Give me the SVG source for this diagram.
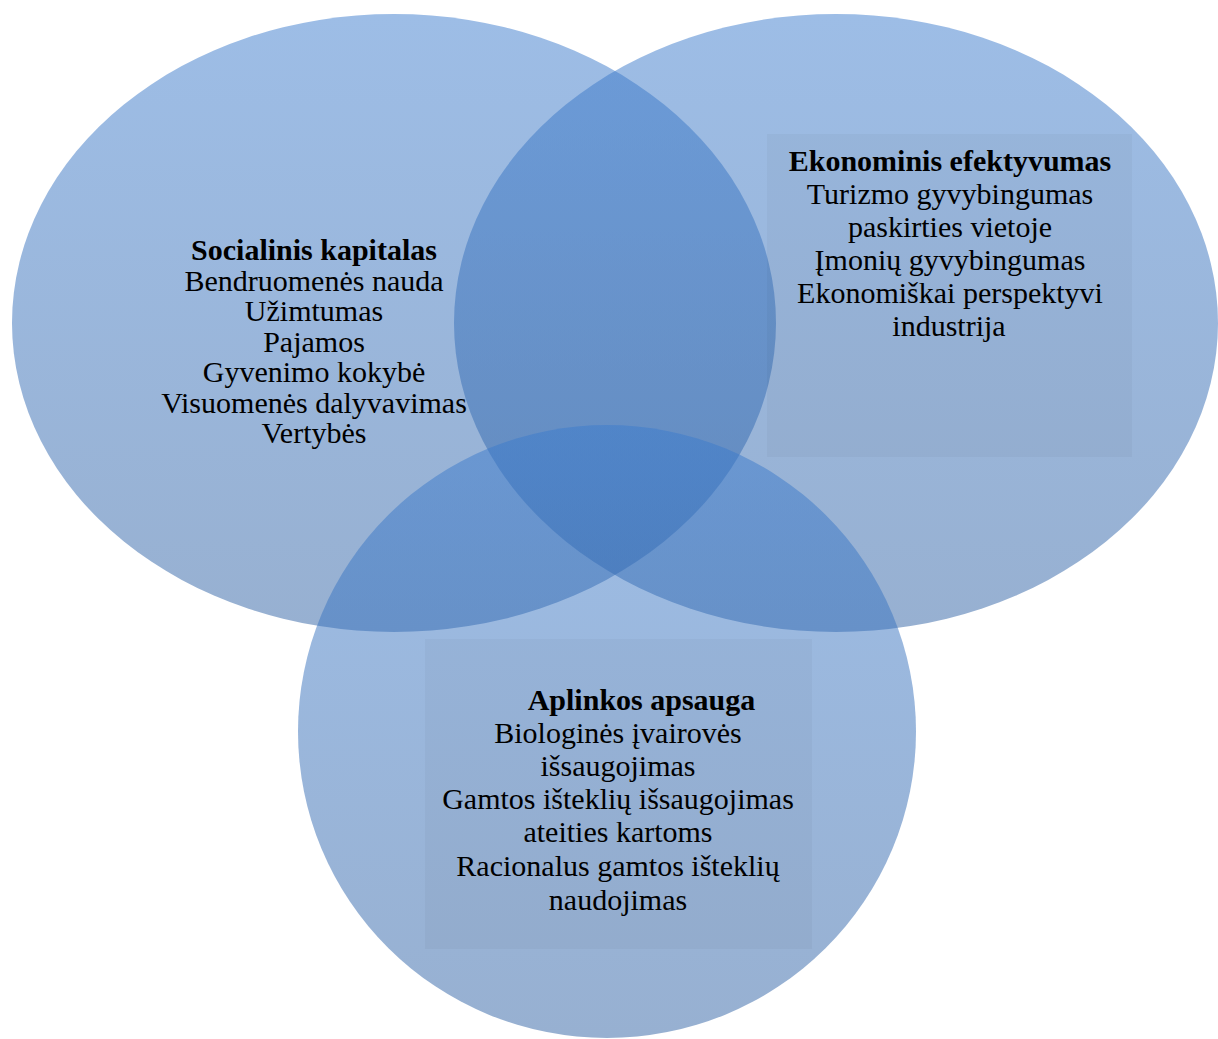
<svg xmlns="http://www.w3.org/2000/svg" width="1218" height="1039" viewBox="0 0 1218 1039">
<style>
.t{font-family:"Liberation Serif","Times New Roman",serif;font-size:30px;fill:#000;text-anchor:middle}
.b{font-weight:bold}
.c{fill:url(#g);}
.box{fill:#000;fill-opacity:0.03}
</style>
<defs>
<linearGradient id="g" x1="0" y1="0" x2="0" y2="1">
<stop offset="0" stop-color="#3b7bcd" stop-opacity="0.5"/>
<stop offset="1" stop-color="#2f61a3" stop-opacity="0.5"/>
</linearGradient>
</defs>
<rect width="1218" height="1039" fill="#fff"/>
<g id="social">
<ellipse class="c" cx="394" cy="323" rx="382" ry="309"/>
</g>
<g id="economic">
<ellipse class="c" cx="836" cy="323" rx="382" ry="309"/>
</g>
<g id="environment">
<ellipse class="c" cx="607" cy="731.5" rx="309" ry="306.5"/>
</g>
<g id="connectors"></g>
<g id="social-text">
<text class="t b" x="314" y="260">Socialinis kapitalas</text>
<text class="t" x="314" y="291">Bendruomenės nauda</text>
<text class="t" x="314" y="321">Užimtumas</text>
<text class="t" x="314" y="352">Pajamos</text>
<text class="t" x="314" y="382">Gyvenimo kokybė</text>
<text class="t" x="314" y="413">Visuomenės dalyvavimas</text>
<text class="t" x="314" y="443">Vertybės</text>
</g>
<g id="economic-text">
<rect class="box" x="767" y="134" width="365" height="323"/>
<text class="t b" x="950" y="171">Ekonominis efektyvumas</text>
<text class="t" x="950" y="204">Turizmo gyvybingumas</text>
<text class="t" x="950" y="237">paskirties vietoje</text>
<text class="t" x="950" y="270">Įmonių gyvybingumas</text>
<text class="t" x="950" y="303">Ekonomiškai perspektyvi</text>
<text class="t" x="949" y="336">industrija</text>
</g>
<g id="environment-text">
<rect class="box" x="425" y="639" width="387" height="310"/>
<text class="t b" x="641.5" y="710">Aplinkos apsauga</text>
<text class="t" x="618" y="743">Biologinės įvairovės</text>
<text class="t" x="618" y="776">išsaugojimas</text>
<text class="t" x="618" y="809">Gamtos išteklių išsaugojimas</text>
<text class="t" x="618" y="842">ateities kartoms</text>
<text class="t" x="618" y="876">Racionalus gamtos išteklių</text>
<text class="t" x="618" y="910">naudojimas</text>
</g>
</svg>
